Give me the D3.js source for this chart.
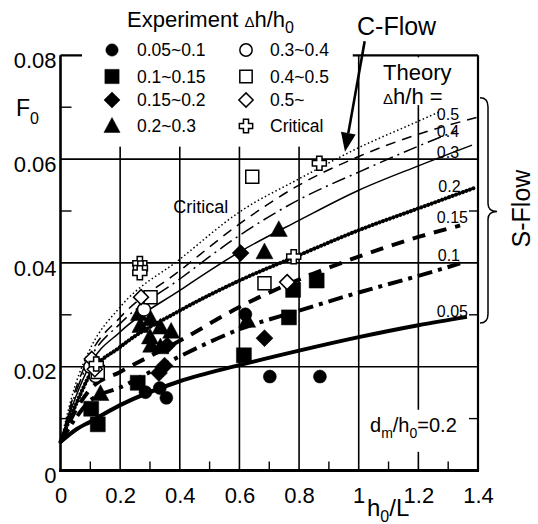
<!DOCTYPE html>
<html>
<head>
<meta charset="utf-8">
<script src="https://cdn.jsdelivr.net/npm/d3@7"></script>
<style>
  body { margin: 0; background: #fff; }
  svg { display: block; font-family: "Liberation Sans", Arial, sans-serif; }
</style>
</head>
<body>
<svg id="chart" width="538" height="524"></svg>
<script>
// ---------------------------------------------------------------------------
// F0 vs h0/L — experiment points by Δh/h0 class, theory curves by Δh/h
// ---------------------------------------------------------------------------

const FONT = '"Liberation Sans", Arial, sans-serif';

// axes
const xTicks = [0, 0.2, 0.4, 0.6, 0.8, 1, 1.2, 1.4];
const xTickLabels = ["0", "0.2", "0.4", "0.6", "0.8", "1", "1.2", "1.4"];
const xMinor = [0.1, 0.3, 0.5, 0.7, 0.9, 1.1, 1.3];
const yTicks = [0, 0.02, 0.04, 0.06, 0.08];
const yTickLabels = ["0", "0.02", "0.04", "0.06", "0.08"];
const yMinor = [0.01, 0.03, 0.05, 0.07];

// theory curves as [h0/L, F0]
const theoryLabels = ["Critical", "0.5", "0.4", "0.3", "0.2", "0.15", "0.1", "0.05"];
const curveCritical = [[0,0.0055],[0.05,0.0165],[0.1,0.0235],[0.2,0.0315],[0.4,0.0407],[0.6,0.0498],[0.8,0.0562],[1.0,0.0622],[1.2,0.0673],[1.27,0.0691]];
const curve05  = [[0,0.0055],[0.05,0.0155],[0.1,0.0224],[0.2,0.0295],[0.4,0.0385],[0.6,0.0475],[0.8,0.0550],[1.0,0.0605],[1.2,0.0648],[1.395,0.0680]];
const curve04  = [[0,0.0055],[0.05,0.0148],[0.1,0.0216],[0.2,0.0283],[0.4,0.0369],[0.6,0.0453],[0.8,0.0522],[1.0,0.0575],[1.2,0.0625],[1.33,0.0655]];
const curve03  = [[0,0.0055],[0.05,0.0140],[0.1,0.0205],[0.2,0.0267],[0.4,0.0347],[0.6,0.0421],[0.8,0.0482],[1.0,0.0540],[1.2,0.0587],[1.38,0.0627]];
const curve02  = [[0,0.0055],[0.05,0.0125],[0.1,0.0186],[0.2,0.0238],[0.4,0.0308],[0.6,0.0366],[0.8,0.0415],[1.0,0.0463],[1.2,0.0505],[1.395,0.0546]];
const curve015 = [[0,0.0055],[0.05,0.0115],[0.1,0.0157],[0.2,0.0190],[0.4,0.0250],[0.6,0.0315],[0.8,0.0368],[1.0,0.0412],[1.2,0.0450],[1.34,0.0472]];
const curve01  = [[0,0.0055],[0.05,0.0100],[0.1,0.0135],[0.2,0.0160],[0.4,0.0220],[0.6,0.0272],[0.8,0.0308],[1.0,0.0343],[1.2,0.0375],[1.34,0.0399]];
const curve005 = [[0,0.0055],[0.05,0.0078],[0.1,0.0094],[0.2,0.0126],[0.4,0.0172],[0.6,0.0203],[0.8,0.0231],[1.0,0.0257],[1.2,0.0280],[1.363,0.0296]];

// experiment points [h0/L, F0], one list per Δh/h0 class
const expLabels = ["0.05~0.1", "0.1~0.15", "0.15~0.2", "0.2~0.3", "0.3~0.4", "0.4~0.5", "0.5~", "Critical"];
const exp005 = [[0.620,0.0301],[0.702,0.0181],[0.870,0.0181],[0.285,0.0151],[0.333,0.0159],[0.355,0.0140]];
const exp010 = [[0.615,0.0222],[0.780,0.0348],[0.859,0.0366],[0.766,0.0295],[0.259,0.0169],[0.103,0.0119],[0.125,0.0089]];
const exp015 = [[0.604,0.0419],[0.684,0.0255],[0.358,0.0241],[0.349,0.0202],[0.330,0.0188]];
const exp020 = [[0.732,0.0464],[0.684,0.0421],[0.626,0.0289],[0.134,0.0148],[0.263,0.0302],[0.302,0.0292],[0.268,0.0279],[0.335,0.0276],[0.371,0.0268],[0.300,0.0257],[0.304,0.0241],[0.335,0.0238]];
const exp030 = [[0.280,0.0310],[0.110,0.0210],[0.120,0.0200],[0.100,0.0200],[0.118,0.0182]];
const exp040 = [[0.643,0.0566],[0.684,0.0361],[0.302,0.0334],[0.125,0.0190]];
const exp050 = [[0.760,0.0363],[0.270,0.0334],[0.105,0.0215],[0.115,0.0195]];
const expCrit = [[0.868,0.0592],[0.782,0.0412],[0.266,0.0399],[0.268,0.0390],[0.266,0.0381],[0.120,0.0205]];

// ---------------------------------------------------------------------------

const svg = d3.select("#chart");
const x = d3.scaleLinear().domain([0, 1.4]).range([60.5, 478]);
const y = d3.scaleLinear().domain([0, 0.08]).range([470.5, 55.3]);

const theory = [
  { name: theoryLabels[0], pts: curveCritical, w: 1.5, dash: "1.5,2.5" },
  { name: theoryLabels[1], pts: curve05,  w: 1.5, dash: "10,7" },
  { name: theoryLabels[2], pts: curve04,  w: 1.5, dash: "14,5,2,5" },
  { name: theoryLabels[3], pts: curve03,  w: 1.5, dash: null },
  { name: theoryLabels[4], pts: curve02,  w: 4,   dash: "0.1,3.6", cap: "round" },
  { name: theoryLabels[5], pts: curve015, w: 4,   dash: "13,9" },
  { name: theoryLabels[6], pts: curve01,  w: 4,   dash: "15,6,4,6" },
  { name: theoryLabels[7], pts: curve005, w: 4,   dash: null },
];
// where each Δh/h label sits (data coords of the text baseline start)
const theoryLabelAt = { "0.5": [1.262,0.0675], "0.4": [1.262,0.0643], "0.3": [1.262,0.0602],
  "0.2": [1.267,0.0537], "0.15": [1.262,0.0477], "0.1": [1.265,0.0404], "0.05": [1.262,0.0296] };

const groups = [
  { name: expLabels[0], pts: exp005,  shape: "circle",   s: 6.5, open: false },
  { name: expLabels[1], pts: exp010,  shape: "square",   s: 7.5, open: false },
  { name: expLabels[2], pts: exp015,  shape: "diamond",  s: 8.5, open: false },
  { name: expLabels[3], pts: exp020,  shape: "triangle", s: 8.5, open: false },
  { name: expLabels[4], pts: exp030,  shape: "circle",   s: 6.5, open: true },
  { name: expLabels[5], pts: exp040,  shape: "square",   s: 6.5, open: true },
  { name: expLabels[6], pts: exp050,  shape: "diamond",  s: 7.5, open: true },
  { name: expLabels[7], pts: expCrit, shape: "cross",    s: 7,   open: true },
];

function symbolPath(shape, s) {
  if (shape === "circle") return d3.symbol(d3.symbolCircle, Math.PI * s * s)();
  if (shape === "square") return `M${-s},${-s}H${s}V${s}H${-s}Z`;
  if (shape === "diamond") return `M0,${-s}L${s},0L0,${s}L${-s},0Z`;
  if (shape === "triangle") return `M0,${-s * 1.05}L${s},${s * 0.8}L${-s},${s * 0.8}Z`;
  const a = s * 0.38;
  return `M${-a},${-s}H${a}V${-a}H${s}V${a}H${a}V${s}H${-a}V${a}H${-s}V${-a}H${-a}Z`;
}

// --- grid + frame ----------------------------------------------------------
const grid = svg.append("g").attr("stroke", "#000");
grid.selectAll("line.vg").data(xTicks.slice(1, -1)).enter().append("line")
  .attr("x1", d => x(d)).attr("x2", d => x(d)).attr("y1", y(0)).attr("y2", y(0.08))
  .attr("stroke-width", 1.6);
grid.selectAll("line.hg").data(yTicks.slice(1, -1)).enter().append("line")
  .attr("x1", x(0)).attr("x2", x(1.4)).attr("y1", d => y(d)).attr("y2", d => y(d))
  .attr("stroke-width", 1.6);
grid.append("line").attr("x1", x(0)).attr("x2", x(1.4)).attr("y1", y(0.08)).attr("y2", y(0.08)).attr("stroke-width", 2.2);
grid.append("line").attr("x1", x(1.4)).attr("x2", x(1.4)).attr("y1", y(0.08)).attr("y2", y(0)).attr("stroke-width", 2.2);

// legend area and theory header sit on white, hiding the grid behind them
svg.append("rect").attr("x", 82).attr("y", 0).attr("width", x(0.98) - 82).attr("height", y(0.0624)).attr("fill", "#fff");
svg.append("rect").attr("x", x(1.01)).attr("y", y(0.0796)).attr("width", x(1.393) - x(1.01)).attr("height", y(0.0704) - y(0.0796)).attr("fill", "#fff");
svg.append("rect").attr("x", x(1.02)).attr("y", y(0.0117)).attr("width", x(1.39) - x(1.02)).attr("height", y(0.0036) - y(0.0117)).attr("fill", "#fff");

// axes lines
svg.append("line").attr("x1", x(0)).attr("x2", x(0)).attr("y1", y(0.08)).attr("y2", y(0) + 1.5)
  .attr("stroke", "#000").attr("stroke-width", 2.6);
svg.append("line").attr("x1", x(0) - 1.3).attr("x2", x(1.4) + 1).attr("y1", y(0)).attr("y2", y(0))
  .attr("stroke", "#000").attr("stroke-width", 3);

// minor ticks
svg.append("g").selectAll("line").data(xMinor).enter().append("line")
  .attr("x1", d => x(d)).attr("x2", d => x(d)).attr("y1", y(0)).attr("y2", y(0) - 9)
  .attr("stroke", "#000").attr("stroke-width", 1.4);
svg.append("g").selectAll("line").data(yMinor).enter().append("line")
  .attr("x1", x(0)).attr("x2", x(0) + 11).attr("y1", d => y(d)).attr("y2", d => y(d))
  .attr("stroke", "#000").attr("stroke-width", 1.4);
svg.append("g").selectAll("line").data(yMinor.slice(0, 3)).enter().append("line")
  .attr("x1", x(1.4)).attr("x2", x(1.4) - 9).attr("y1", d => y(d)).attr("y2", d => y(d))
  .attr("stroke", "#000").attr("stroke-width", 1.4);

// tick labels
const gx = svg.append("g").attr("transform", `translate(0,${y(0)})`)
  .call(d3.axisBottom(x).tickValues(xTicks).tickFormat((d, i) => xTickLabels[i]).tickSize(0).tickPadding(17));
gx.select(".domain").remove();
gx.attr("font-size", 22).attr("font-family", FONT);
gx.selectAll("text").attr("fill", "#000");

const gy = svg.append("g").attr("transform", `translate(${x(0)},0)`)
  .call(d3.axisLeft(y).tickValues(yTicks).tickFormat((d, i) => yTickLabels[i]).tickSize(0).tickPadding(4));
gy.select(".domain").remove();
gy.attr("font-size", 22).attr("font-family", FONT);
gy.selectAll("text").attr("fill", "#000").attr("dy", "0.55em");

// axis titles
const fTitle = svg.append("text").attr("x", 16).attr("y", 116).attr("font-size", 23);
fTitle.append("tspan").text("F");
fTitle.append("tspan").attr("font-size", 16).attr("dy", 8).text("0");

const hTitle = svg.append("text").attr("x", 367).attr("y", 516).attr("font-size", 24);
hTitle.append("tspan").text("h");
hTitle.append("tspan").attr("font-size", 16).attr("dy", 6).text("0");
hTitle.append("tspan").attr("dy", -6).text("/L");

// --- theory curves -----------------------------------------------------------
const line = d3.line().x(d => x(d[0])).y(d => y(d[1])).curve(d3.curveMonotoneX);
svg.append("g").attr("fill", "none").attr("stroke", "#000")
  .selectAll("path").data(theory).enter().append("path")
  .attr("d", d => line(d.pts))
  .attr("stroke-width", d => d.w)
  .attr("stroke-dasharray", d => d.dash)
  .attr("stroke-linecap", d => d.cap || "butt");

svg.append("g").attr("font-size", 16).selectAll("text")
  .data(theory.filter(d => theoryLabelAt[d.name])).enter().append("text")
  .attr("x", d => x(theoryLabelAt[d.name][0])).attr("y", d => y(theoryLabelAt[d.name][1]))
  .text(d => d.name);

svg.append("text").attr("x", x(0.378)).attr("y", y(0.0496)).attr("font-size", 18).text(theoryLabels[0]);

// --- experiment markers ----------------------------------------------------------
groups.forEach(gr => {
  svg.append("g").selectAll("path").data(gr.pts).enter().append("path")
    .attr("transform", d => `translate(${x(d[0])},${y(d[1])})`)
    .attr("d", symbolPath(gr.shape, gr.s))
    .attr("fill", gr.open ? "#fff" : "#000")
    .attr("stroke", "#000")
    .attr("stroke-width", gr.open ? 1.5 : 0.5);
});

// --- legend --------------------------------------------------------------------
const exTitle = svg.append("text").attr("x", 127).attr("y", 27).attr("font-size", 22);
exTitle.append("tspan").text("Experiment ");
exTitle.append("tspan").attr("font-size", 15).text("Δ");
exTitle.append("tspan").text("h/h");
exTitle.append("tspan").attr("font-size", 16).attr("dy", 6).text("0");

const leg = svg.append("g").selectAll("g").data(groups).enter().append("g")
  .attr("transform", (d, i) => `translate(${i < 4 ? 112 : 246},${[50, 76.5, 100, 126][i % 4]})`);
leg.append("path")
  .attr("d", d => symbolPath(d.shape, d.s * 0.95))
  .attr("fill", d => d.open ? "#fff" : "#000")
  .attr("stroke", "#000").attr("stroke-width", d => d.open ? 1.5 : 0.5);
leg.append("text").attr("x", (d, i) => i < 4 ? 25 : 24).attr("y", 6).attr("font-size", 17.5).text(d => d.name);

// --- theory header, C-Flow arrow, S-Flow brace, note ------------------------------
svg.append("text").attr("x", 383).attr("y", 80).attr("font-size", 22).text("Theory");
const dh = svg.append("text").attr("x", 383).attr("y", 104).attr("font-size", 22);
dh.append("tspan").attr("font-size", 15).text("Δ");
dh.append("tspan").text("h/h =");

svg.append("text").attr("x", 357).attr("y", 35).attr("font-size", 25).text("C-Flow");
const tail = [x(1.02), y(0.0827)], tip = [x(0.954), y(0.0614)];
const len = Math.hypot(tip[0] - tail[0], tip[1] - tail[1]);
const ux = (tip[0] - tail[0]) / len, uy = (tip[1] - tail[1]) / len;
const bx = tip[0] - 19 * ux, by = tip[1] - 19 * uy;
svg.append("line").attr("x1", tail[0]).attr("y1", tail[1]).attr("x2", bx).attr("y2", by)
  .attr("stroke", "#000").attr("stroke-width", 2.6);
svg.append("path")
  .attr("d", `M${tip[0]},${tip[1]}L${bx - 7.5 * uy},${by + 7.5 * ux}L${bx + 7.5 * uy},${by - 7.5 * ux}Z`)
  .attr("fill", "#000");

const bTop = y(0.0718), bBot = y(0.0284), bMid = y(0.0499);
const bx0 = x(1.4) + 2, bx1 = bx0 + 8, bxp = bx0 + 17;
svg.append("path")
  .attr("d", `M${bx0},${bTop}Q${bx1},${bTop} ${bx1},${bTop + 9}V${bMid - 8}Q${bx1},${bMid} ${bxp},${bMid}` +
             `Q${bx1},${bMid} ${bx1},${bMid + 8}V${bBot - 9}Q${bx1},${bBot} ${bx0},${bBot}`)
  .attr("fill", "none").attr("stroke", "#000").attr("stroke-width", 1.5);
svg.append("text").attr("transform", `translate(530,${bMid - 3}) rotate(-90)`)
  .attr("text-anchor", "middle").attr("font-size", 25).text("S-Flow");

const note = svg.append("text").attr("x", 370).attr("y", 432).attr("font-size", 20);
note.append("tspan").text("d");
note.append("tspan").attr("font-size", 14).attr("dy", 6).text("m");
note.append("tspan").attr("dy", -6).text("/h");
note.append("tspan").attr("font-size", 14).attr("dy", 6).text("0");
note.append("tspan").attr("dy", -6).text("=0.2");
</script>
</body>
</html>
